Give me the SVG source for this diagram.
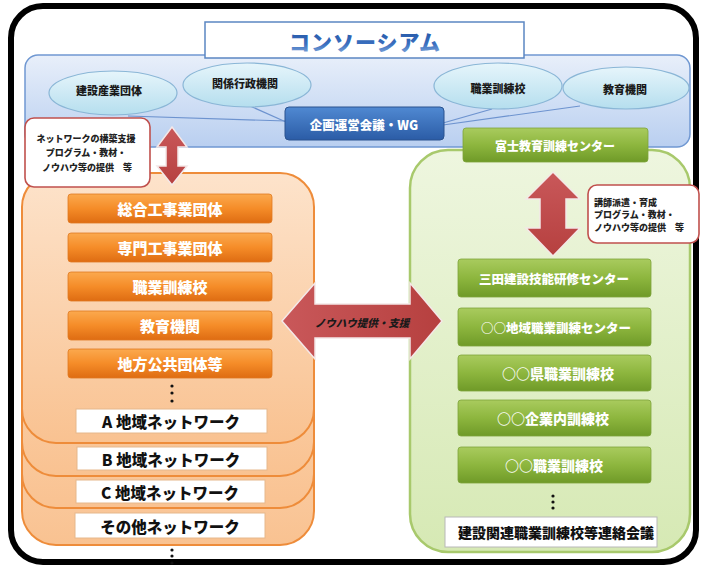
<svg xmlns="http://www.w3.org/2000/svg" width="702" height="567" viewBox="0 0 702 567">
<defs>
<linearGradient id="gBand" x1="0" y1="0" x2="0" y2="1"><stop offset="0" stop-color="#e8effa"/><stop offset="1" stop-color="#b9cff0"/></linearGradient>
<linearGradient id="gEll" x1="0" y1="0" x2="0" y2="1"><stop offset="0" stop-color="#e6f5fb"/><stop offset="1" stop-color="#b5deee"/></linearGradient>
<linearGradient id="gWG" x1="0" y1="0" x2="0" y2="1"><stop offset="0" stop-color="#5089d2"/><stop offset="1" stop-color="#2b5ca6"/></linearGradient>
<linearGradient id="gTitle" x1="0" y1="0" x2="0" y2="1"><stop offset="0" stop-color="#1d4f9e"/><stop offset="0.6" stop-color="#3a6fbf"/><stop offset="1" stop-color="#8fb2e0"/></linearGradient>
<linearGradient id="gOrCont" x1="0" y1="0" x2="0" y2="1"><stop offset="0" stop-color="#fde3cb"/><stop offset="1" stop-color="#f9c291"/></linearGradient>
<linearGradient id="gOrBtn" x1="0" y1="0" x2="0" y2="1"><stop offset="0" stop-color="#fba94e"/><stop offset="0.5" stop-color="#f58c28"/><stop offset="1" stop-color="#de6c12"/></linearGradient>
<linearGradient id="gGrCont" x1="0" y1="0" x2="0" y2="1"><stop offset="0" stop-color="#eef6df"/><stop offset="1" stop-color="#d6e9b4"/></linearGradient>
<linearGradient id="gGrBtn" x1="0" y1="0" x2="0" y2="1"><stop offset="0" stop-color="#a9cb5e"/><stop offset="0.5" stop-color="#8db63e"/><stop offset="1" stop-color="#6f9a28"/></linearGradient>
<linearGradient id="gArrow" x1="0" y1="0" x2="0" y2="1"><stop offset="0" stop-color="#c9585a"/><stop offset="1" stop-color="#b6403f"/></linearGradient>
<linearGradient id="gArrowH" x1="0" y1="0" x2="1" y2="0"><stop offset="0" stop-color="#c9585a"/><stop offset="1" stop-color="#b6403f"/></linearGradient>
</defs>
<style>
text{font-family:"Noto Sans CJK JP","Noto Sans CJK SC",sans-serif;font-weight:900;text-anchor:middle;dominant-baseline:central}
.ell{fill:url(#gEll);stroke:#8ab6d6;stroke-width:1.2}
.ellt{font-size:11px;fill:#1a1a1a}
.obtn{fill:url(#gOrBtn);stroke:#e07a22;stroke-width:0.8}
.obt{font-size:15px;fill:#ffffff}
.gbtn{fill:url(#gGrBtn);stroke:#7ea33a;stroke-width:0.8}
.gbt{fill:#ffffff}
.layer{fill:url(#gOrCont);stroke:#ee8c3a;stroke-width:2}
.lbl{fill:#ffffff;stroke:#e6b88c;stroke-width:1}
.lblt{font-size:15.5px;fill:#111111}
.callout{fill:#ffffff;stroke:#c0504d;stroke-width:1.6}
.ct{font-size:9px;fill:#222222}
.link{stroke:#6d93cf;stroke-width:1.2;fill:none}
.arrow{stroke:#f4e8e8;stroke-width:1.5}
.dot{fill:#111111}
</style>

<rect id="frame" x="11" y="6" width="685" height="556" rx="32" fill="#ffffff" stroke="#000000" stroke-width="6"/>

<g id="consortium">
<rect x="25" y="55" width="665" height="92" rx="13" fill="url(#gBand)" stroke="#7098d2" stroke-width="1.5"/>
</g>

<g id="title">
<rect x="205" y="22" width="319" height="36" fill="#ffffff" stroke="#5b86c2" stroke-width="1.5"/>
<text x="365" y="41" font-size="21" fill="url(#gTitle)" letter-spacing="1">コンソーシアム</text>
</g>

<g id="connectors">
<line class="link" x1="128" y1="116" x2="286" y2="121"/>
<line class="link" x1="250" y1="106" x2="286" y2="122"/>
<line class="link" x1="492" y1="109" x2="443" y2="123"/>
<line class="link" x1="580" y1="106" x2="443" y2="125"/>
</g>

<g id="n-kensetsu"><ellipse class="ell" cx="113" cy="93" rx="64" ry="22"/><text class="ellt" x="109" y="90">建設産業団体</text></g>
<g id="n-kankei"><ellipse class="ell" cx="247" cy="85" rx="64" ry="22"/><text class="ellt" x="245" y="83">関係行政機関</text></g>
<g id="n-shokugyo"><ellipse class="ell" cx="498" cy="86" rx="64" ry="23"/><text class="ellt" x="498" y="88">職業訓練校</text></g>
<g id="n-kyoiku"><ellipse class="ell" cx="626" cy="88" rx="63" ry="21"/><text class="ellt" x="625" y="89">教育機関</text></g>

<g id="n-wg"><rect x="285" y="107" width="159" height="33" rx="4" fill="url(#gWG)" stroke="#2a528f" stroke-width="1"/><text x="364" y="124" font-size="12.5" fill="#ffffff">企画運営会議・WG</text></g>

<g id="left-network">
<rect class="layer" x="22" y="260" width="292" height="285" rx="34"/>
<rect class="layer" x="22" y="230" width="292" height="278" rx="34"/>
<rect class="layer" x="22" y="200" width="292" height="276" rx="34"/>
<rect class="layer" x="22" y="173" width="292" height="270" rx="34"/>
</g>

<g id="n-sogo"><rect class="obtn" x="68" y="194" width="204" height="29" rx="3"/><text class="obt" x="170" y="208.5">総合工事業団体</text></g>
<g id="n-senmon"><rect class="obtn" x="68" y="233" width="204" height="29" rx="3"/><text class="obt" x="170" y="247.5">専門工事業団体</text></g>
<g id="n-shokugyo2"><rect class="obtn" x="68" y="272" width="204" height="29" rx="3"/><text class="obt" x="170" y="286.5">職業訓練校</text></g>
<g id="n-kyoiku2"><rect class="obtn" x="68" y="311" width="204" height="29" rx="3"/><text class="obt" x="170" y="325.5">教育機関</text></g>
<g id="n-chiho"><rect class="obtn" x="68" y="349" width="204" height="29" rx="3"/><text class="obt" x="170" y="363.5">地方公共団体等</text></g>
<g id="dots-left"><circle class="dot" cx="172" cy="386" r="1.6"/><circle class="dot" cx="172" cy="393" r="1.6"/><circle class="dot" cx="172" cy="401" r="1.6"/></g>

<g id="n-a"><rect class="lbl" x="76" y="409" width="191" height="24"/><text class="lblt" x="171" y="421">A 地域ネットワーク</text></g>
<g id="n-b"><rect class="lbl" x="77" y="447" width="190" height="23"/><text class="lblt" x="171" y="458.5">B 地域ネットワーク</text></g>
<g id="n-c"><rect class="lbl" x="76" y="480" width="189" height="23"/><text class="lblt" x="170" y="491.5">C 地域ネットワーク</text></g>
<g id="n-other"><rect class="lbl" x="75" y="513" width="190" height="25"/><text class="lblt" x="170" y="525.5">その他ネットワーク</text></g>
<g id="dots-bottom"><circle class="dot" cx="172" cy="550" r="1.6"/><circle class="dot" cx="172" cy="556" r="1.6"/><circle class="dot" cx="172" cy="563" r="1.6"/></g>

<g id="right-network">
<rect x="410" y="150" width="280" height="402" rx="38" fill="url(#gGrCont)" stroke="#a8c96c" stroke-width="2.5"/>
</g>

<g id="n-fuji"><rect class="gbtn" x="463" y="128" width="185" height="34" rx="3"/><text class="gbt" x="555" y="145" font-size="12">富士教育訓練センター</text></g>

<g id="n-mita"><rect class="gbtn" x="458" y="259" width="193" height="38" rx="3"/><text class="gbt" x="554" y="278" font-size="12.5">三田建設技能研修センター</text></g>
<g id="n-chiiki"><rect class="gbtn" x="458" y="308" width="193" height="38" rx="3"/><text class="gbt" x="556" y="327" font-size="12.5">○○地域職業訓練センター</text></g>
<g id="n-ken"><rect class="gbtn" x="458" y="355" width="193" height="36" rx="3"/><text class="gbt" x="558" y="373" font-size="14">○○県職業訓練校</text></g>
<g id="n-kigyo"><rect class="gbtn" x="458" y="400" width="193" height="36" rx="3"/><text class="gbt" x="553" y="418" font-size="14">○○企業内訓練校</text></g>
<g id="n-shokugyo3"><rect class="gbtn" x="458" y="447" width="193" height="36" rx="3"/><text class="gbt" x="554" y="465" font-size="14">○○職業訓練校</text></g>
<g id="dots-right"><circle class="dot" cx="553" cy="496" r="1.6"/><circle class="dot" cx="553" cy="502" r="1.6"/><circle class="dot" cx="553" cy="508" r="1.6"/></g>
<g id="n-renraku"><rect x="445" y="517" width="212" height="30" fill="#ffffff" stroke="#b8b8b8" stroke-width="1"/><text x="556" y="532" font-size="14" fill="#111111">建設関連職業訓練校等連絡会議</text></g>

<g id="arrows">
<polygon class="arrow" fill="url(#gArrowH)" points="282,321 315,283 315,304 410,304 410,283 442,321 410,359 410,338 315,338 315,359"/>
<polygon class="arrow" fill="url(#gArrow)" points="172,127 187,147 178,147 178,166 187,166 172,185 157,166 166,166 166,147 157,147"/>
<polygon class="arrow" fill="url(#gArrow)" points="553,172 580,199 566,199 566,228 580,228 553,256 526,228 540,228 540,199 526,199"/>
</g>
<text x="362" y="322" font-size="10.5" fill="#1a1a1a" style="font-style:italic">ノウハウ提供・支援</text>

<g id="callout-left">
<rect class="callout" x="25" y="118" width="125" height="69" rx="9"/>
<text class="ct" x="86" y="138">ネットワークの構築支援</text>
<text class="ct" x="86" y="152">プログラム・教材・</text>
<text class="ct" x="87" y="167">ノウハウ等の提供　等</text>
</g>

<g id="callout-right">
<rect class="callout" x="588" y="185" width="111" height="58" rx="9"/>
<text class="ct" x="594" y="202" style="text-anchor:start">講師派遣・育成</text>
<text class="ct" x="594" y="214" style="text-anchor:start">プログラム・教材・</text>
<text class="ct" x="594" y="227" style="text-anchor:start">ノウハウ等の提供　等</text>
</g>
</svg>
